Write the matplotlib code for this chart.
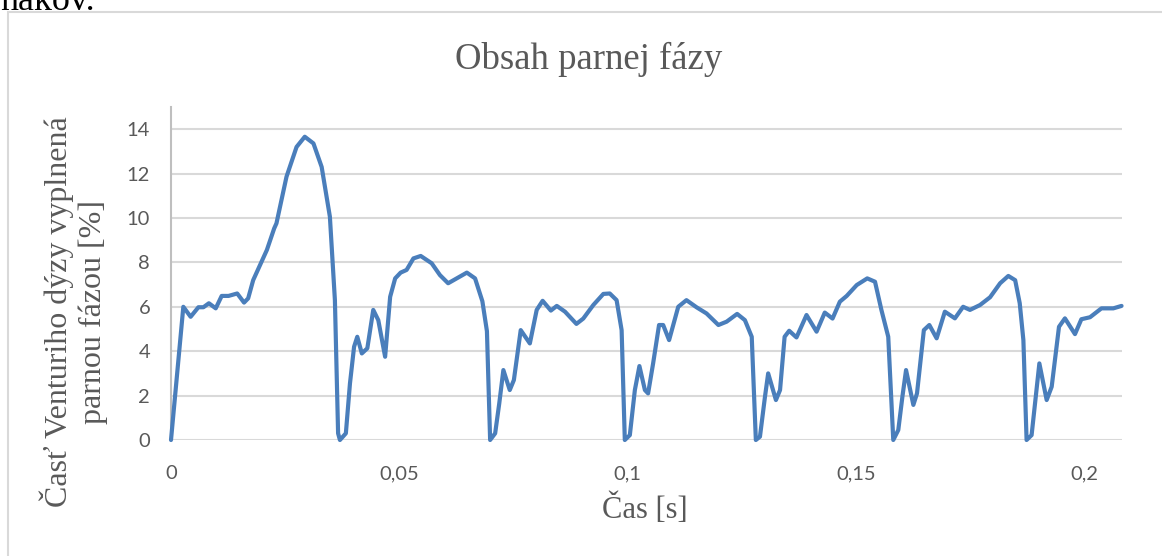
import matplotlib
matplotlib.use("Agg")
import matplotlib.pyplot as plt
from matplotlib.patches import Rectangle

# Time [s] and vapour fraction of the Venturi nozzle [%]
cas = [
    0.0000, 0.0027, 0.0043, 0.0060, 0.0071, 0.0083, 0.0098, 0.0111, 0.0126, 0.0145,
    0.0160, 0.0169, 0.0180, 0.0195, 0.0210, 0.0226, 0.0231, 0.0253, 0.0275, 0.0293,
    0.0312, 0.0330, 0.0348, 0.0359, 0.0366, 0.0370, 0.0383, 0.0392, 0.0401, 0.0408,
    0.0418, 0.0430, 0.0443, 0.0454, 0.0469, 0.0480, 0.0491, 0.0503, 0.0516, 0.0531,
    0.0547, 0.0571, 0.0589, 0.0607, 0.0626, 0.0648, 0.0666, 0.0682, 0.0692, 0.0699,
    0.0710, 0.0719, 0.0728, 0.0742, 0.0751, 0.0766, 0.0786, 0.0801, 0.0814, 0.0832,
    0.0845, 0.0863, 0.0888, 0.0903, 0.0925, 0.0947, 0.0961, 0.0976, 0.0987, 0.0994,
    0.1005, 0.1016, 0.1026, 0.1038, 0.1045, 0.1056, 0.1069, 0.1078, 0.1091, 0.1111,
    0.1129, 0.1151, 0.1173, 0.1199, 0.1217, 0.1240, 0.1257, 0.1272, 0.1281, 0.1290,
    0.1301, 0.1308, 0.1325, 0.1334, 0.1344, 0.1354, 0.1370, 0.1392, 0.1414, 0.1432,
    0.1449, 0.1465, 0.1480, 0.1502, 0.1525, 0.1542, 0.1556, 0.1571, 0.1582, 0.1593,
    0.1602, 0.1610, 0.1626, 0.1634, 0.1649, 0.1661, 0.1677, 0.1695, 0.1717, 0.1735,
    0.1750, 0.1772, 0.1794, 0.1816, 0.1834, 0.1849, 0.1859, 0.1867, 0.1874, 0.1885,
    0.1894, 0.1902, 0.1918, 0.1929, 0.1945, 0.1958, 0.1980, 0.1994, 0.2013, 0.2038,
    0.2064, 0.2082,
]
podiel = [
    0.00, 6.00, 5.55, 5.98, 5.98, 6.16, 5.93, 6.49, 6.49, 6.60,
    6.19, 6.38, 7.20, 7.88, 8.56, 9.53, 9.76, 11.86, 13.20, 13.66,
    13.36, 12.30, 10.06, 6.30, 0.30, 0.00, 0.30, 2.55, 4.20, 4.65,
    3.90, 4.13, 5.86, 5.40, 3.75, 6.45, 7.28, 7.54, 7.66, 8.18,
    8.29, 7.96, 7.43, 7.06, 7.28, 7.54, 7.28, 6.25, 4.90, 0.00,
    0.30, 1.65, 3.15, 2.25, 2.70, 4.95, 4.35, 5.86, 6.27, 5.83,
    6.04, 5.78, 5.23, 5.47, 6.08, 6.58, 6.60, 6.30, 4.95, 0.00,
    0.22, 2.25, 3.33, 2.25, 2.10, 3.45, 5.18, 5.18, 4.50, 6.00,
    6.30, 5.98, 5.70, 5.18, 5.33, 5.68, 5.40, 4.65, 0.00, 0.15,
    1.95, 3.00, 1.80, 2.25, 4.65, 4.92, 4.62, 5.63, 4.88, 5.74,
    5.47, 6.23, 6.49, 6.98, 7.28, 7.13, 5.86, 4.65, 0.00, 0.45,
    1.95, 3.15, 1.58, 2.10, 4.95, 5.18, 4.58, 5.78, 5.48, 6.00,
    5.86, 6.08, 6.43, 7.06, 7.39, 7.20, 6.16, 4.50, 0.00, 0.22,
    1.95, 3.45, 1.80, 2.40, 5.10, 5.48, 4.77, 5.44, 5.53, 5.93,
    5.93, 6.04,
]

x_ticks = [0, 0.05, 0.1, 0.15, 0.2]
x_labels = ["0", "0,05", "0,1", "0,15", "0,2"]
y_ticks = [0, 2, 4, 6, 8, 10, 12, 14]

W, H = 1162, 556
fig = plt.figure(figsize=(W / 100, H / 100), dpi=100)
fig.patch.set_facecolor("white")

serif = "Liberation Serif"
txt_col = "#595959"

# tail of the paragraph above the chart, and the chart frame
fig.text(95 / W, 1 - 10 / H, "nakov.", family=serif, fontsize=26,
         color="black", ha="right", va="baseline")
fig.patches.append(Rectangle((8 / W, -0.1), 1.2, 1 - 12 / H + 0.1,
                             transform=fig.transFigure, fill=False,
                             edgecolor="#d9d9d9", linewidth=1.5))

ax = fig.add_axes([171 / W, (H - 440) / H, (1122 - 171) / W, (440 - 107) / H])
ax.plot(cas, podiel, color="#4a7ebb", linewidth=3.0, solid_joinstyle="round",
        solid_capstyle="round", zorder=3, clip_on=False)

ax.set_xlim(0, 0.2083)
ax.set_ylim(0, 15)
ax.set_xticks(x_ticks)
ax.set_xticklabels(x_labels)
ax.set_yticks(y_ticks)

ax.grid(axis="y", color="#d9d9d9", linewidth=1.5, zorder=0)
ax.set_axisbelow(True)
for side in ("top", "right", "bottom"):
    ax.spines[side].set_visible(False)
ax.spines["left"].set_color("#bfbfbf")
ax.spines["left"].set_linewidth(1.5)

ax.tick_params(axis="both", length=0, labelsize=14.5, labelcolor=txt_col)
ax.tick_params(axis="x", pad=18)
ax.tick_params(axis="y", pad=15)
for lab in ax.get_xticklabels() + ax.get_yticklabels():
    lab.set_family("Lato")

fig.text((455 + 723) / 2 / W, 1 - 69 / H, "Obsah parnej fázy", family=serif,
         fontsize=26.5, color=txt_col, ha="center", va="baseline")
fig.text(645 / W, 1 - 518 / H, "Čas [s]", family=serif, fontsize=22,
         color=txt_col, ha="center", va="baseline")
fig.text(74 / W, 1 - 312 / H, "Časť Venturiho dýzy vyplnená\nparnou fázou [%]",
         family=serif, fontsize=23, color=txt_col, ha="center", va="center",
         rotation=90, linespacing=1.2, multialignment="center")

fig.savefig("out.png", dpi=100)
